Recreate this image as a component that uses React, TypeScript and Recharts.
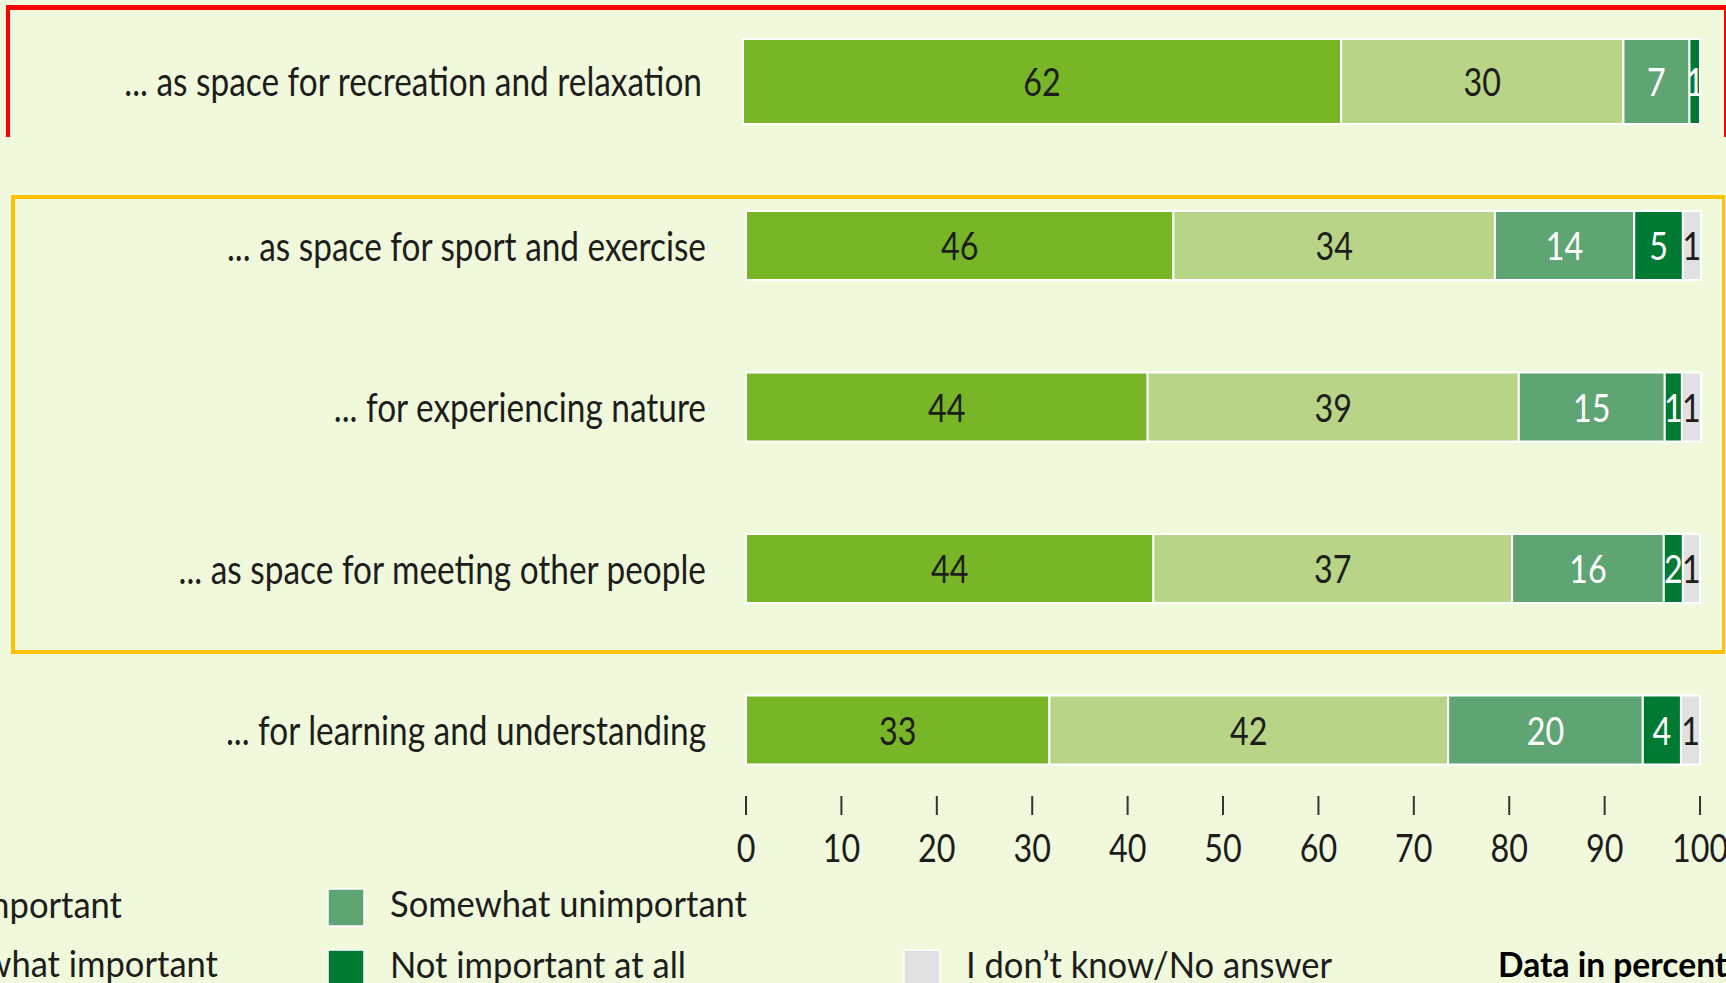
import { BarChart, Bar, XAxis, YAxis, LabelList } from 'recharts';

const categories = [
  '... as space for recreation and relaxation',
  '... as space for sport and exercise',
  '... for experiencing nature',
  '... as space for meeting other people',
  '... for learning and understanding',
];

const seriesNames = [
  'Very important',
  'Somewhat important',
  'Somewhat unimportant',
  'Not important at all',
  'I don’t know/No answer',
];

// bar lengths
const veryImportant = [62.5, 44.8, 42.1, 42.7, 31.8];
const somewhatImportant = [29.5, 33.7, 38.9, 37.6, 41.8];
const somewhatUnimportant = [6.9, 14.6, 15.3, 15.9, 20.4];
const notImportant = [1.1, 5.1, 1.8, 2.0, 4.0];
const dontKnow = [0, 1.9, 2.0, 1.8, 2.0];

// numbers printed inside the bars
const veryImportantLabels = [62, 46, 44, 44, 33];
const somewhatImportantLabels = [30, 34, 39, 37, 42];
const somewhatUnimportantLabels = [7, 14, 15, 16, 20];
const notImportantLabels = [1, 5, 1, 2, 4];
const dontKnowLabels = [null, 1, 1, 1, 1];

const xTicks = [0, 10, 20, 30, 40, 50, 60, 70, 80, 90, 100];

const colors = ['#78b628', '#b8d487', '#5fa573', '#007a33', '#e1e1e1'];
const labelColors = ['#1d1d1b', '#1d1d1b', '#ffffff', '#ffffff', '#1d1d1b'];

const FONT = 'Lato, "Open Sans", sans-serif';
const TEXT = '#1d1d1b';
const BG = '#f0f9dc';
const NUM_SCALE = 0.85;
const CAT_SCALE = 0.835;
const LEG_SCALE = 0.96;

const values = [veryImportant, somewhatImportant, somewhatUnimportant, notImportant, dontKnow];
const labels = [
  veryImportantLabels,
  somewhatImportantLabels,
  somewhatUnimportantLabels,
  notImportantLabels,
  dontKnowLabels,
];

const rows = categories.map((name, i) => {
  const row: Record<string, string | number | null> = { name };
  values.forEach((v, k) => {
    row[`v${k}`] = v[i];
    row[`l${k}`] = labels[k][i];
  });
  return row;
});

const topRows = rows.slice(0, 1);
const bottomRows = rows.slice(1);

const makeLabel = (color: string) => (props: any) => {
  const { x, y, width, height, value } = props;
  if (value === null || value === undefined || value === '') return null;
  const cx = Number(x) + Number(width) / 2;
  const cy = Number(y) + Number(height) / 2;
  return (
    <text
      transform={`translate(${cx},${cy}) scale(${NUM_SCALE},1)`}
      textAnchor="middle"
      dominantBaseline="central"
      fill={color}
      fontSize={38}
      fontFamily={FONT}
    >
      {value}
    </text>
  );
};

const CategoryTick = (props: any) => {
  const { x, y, payload } = props;
  return (
    <text
      transform={`translate(${x},${y}) scale(${CAT_SCALE},1)`}
      textAnchor="end"
      dominantBaseline="central"
      fill={TEXT}
      fontSize={40}
      fontFamily={FONT}
    >
      {payload.value}
    </text>
  );
};

const ValueTick = (props: any) => {
  const { x, y, payload } = props;
  return (
    <g>
      <line x1={x} x2={x} y1={y - 15} y2={y + 4} stroke="#333" strokeWidth={2} />
      <text
        transform={`translate(${x},${y + 51}) scale(${NUM_SCALE},1)`}
        textAnchor="middle"
        fill={TEXT}
        fontSize={38}
        fontFamily={FONT}
      >
        {payload.value}
      </text>
    </g>
  );
};

function renderBars(barSize: number) {
  return values.map((_, k) => (
    <Bar
      key={k}
      dataKey={`v${k}`}
      name={seriesNames[k]}
      stackId="a"
      fill={colors[k]}
      stroke="#ffffff"
      strokeWidth={2}
      barSize={barSize}
      isAnimationActive={false}
    >
      <LabelList dataKey={`l${k}`} content={makeLabel(labelColors[k])} />
    </Bar>
  ));
}

function LegendText(props: { x: number; y: number; anchor?: string; bold?: boolean; children: any }) {
  const { x, y, anchor = 'start', bold = false, children } = props;
  return (
    <text
      transform={`translate(${x},${y}) scale(${LEG_SCALE},1)`}
      textAnchor={anchor}
      fill={bold ? '#000' : TEXT}
      fontSize={bold ? 35 : 36}
      fontWeight={bold ? 700 : 400}
      fontFamily={FONT}
    >
      {children}
    </text>
  );
}

function Legend() {
  const item = (k: number, x: number, y: number) => (
    <g key={k}>
      <rect x={x} y={y} width={36} height={37} fill={colors[k]} stroke="#fff" strokeWidth={1.5} />
      <LegendText x={x + 62} y={y + 28}>
        {seriesNames[k]}
      </LegendText>
    </g>
  );
  return (
    <svg
      width={1726}
      height={983}
      style={{ position: 'absolute', left: 0, top: 0, pointerEvents: 'none' }}
    >
      <LegendText x={122} y={918} anchor="end">
        {seriesNames[0]}
      </LegendText>
      <LegendText x={218} y={977} anchor="end">
        {seriesNames[1]}
      </LegendText>
      {item(2, 328, 889)}
      {item(3, 328, 950)}
      {item(4, 904, 950)}
      <LegendText x={1498} y={977} bold>
        Data in percent
      </LegendText>
    </svg>
  );
}

export default function App() {
  return (
    <div
      style={{
        position: 'absolute',
        left: 0,
        top: 0,
        width: 1726,
        height: 983,
        overflow: 'hidden',
        background: BG,
        fontFamily: FONT,
      }}
    >
      {/* top row, separate crop */}
      <div style={{ position: 'absolute', left: 0, top: 0 }}>
        <BarChart
          width={1726}
          height={162}
          data={topRows}
          layout="vertical"
          margin={{ top: 0, right: 26, bottom: 0, left: 0 }}
        >
          <XAxis type="number" domain={[0, 100]} hide />
          <YAxis
            type="category"
            dataKey="name"
            width={743}
            axisLine={false}
            tickLine={false}
            tickSize={0}
            tickMargin={41}
            tick={(p: any) => <CategoryTick {...p} />}
          />
          {renderBars(85)}
        </BarChart>
      </div>

      <div style={{ position: 'absolute', left: 0, top: 0 }}>
        <BarChart
          width={1726}
          height={871}
          data={bottomRows}
          layout="vertical"
          margin={{ top: 165, right: 25, bottom: 0, left: 0 }}
        >
          <XAxis
            type="number"
            domain={[0, 100]}
            ticks={xTicks}
            height={60}
            axisLine={false}
            tickLine={false}
            tickSize={0}
            tickMargin={0}
            interval={0}
            tick={(p: any) => <ValueTick {...p} />}
          />
          <YAxis
            type="category"
            dataKey="name"
            width={746}
            axisLine={false}
            tickLine={false}
            tickSize={0}
            tickMargin={40}
            tick={(p: any) => <CategoryTick {...p} />}
          />
          {renderBars(69)}
        </BarChart>
      </div>

      <Legend />

      {/* highlight frames */}
      <div
        style={{
          position: 'absolute',
          left: 6,
          top: 5,
          width: 1720,
          height: 132,
          boxSizing: 'border-box',
          borderTop: '5px solid #ff0000',
          borderLeft: '4px solid #ff0000',
          borderRight: '2px solid #ff0000',
        }}
      />
      <div
        style={{
          position: 'absolute',
          left: 11,
          top: 195,
          width: 1714,
          height: 459,
          boxSizing: 'border-box',
          border: '4px solid #ffc000',
          borderRight: '3px solid #ffc000',
        }}
      />
    </div>
  );
}
